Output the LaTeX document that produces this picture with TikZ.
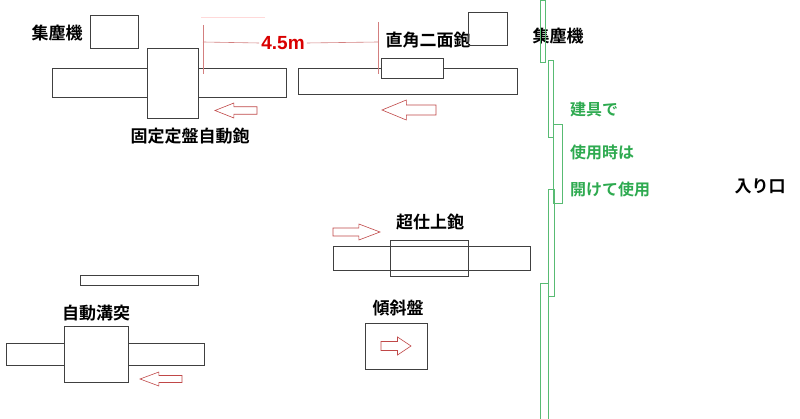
\documentclass[tikz,border=0pt]{standalone}
\usepackage{fontspec}
\newfontfamily\jp{Noto Sans CJK JP Bold}
\newfontfamily\lat{Liberation Sans}
\definecolor{gr}{HTML}{2EAA50}
\definecolor{dr}{HTML}{C04848}
\begin{document}
\begin{tikzpicture}[x=1pt,y=-1pt,
  box/.style={draw=black!75,line width=0.7pt},
  lbl/.style={font=\jp\fontsize{17}{17}\selectfont,inner sep=0pt},
  glbl/.style={font=\jp\fontsize{16}{16}\selectfont,inner sep=0pt,text=gr,anchor=west},
  gdoor/.style={draw=gr!80,line width=0.7pt},
  dim/.style={draw=dr!70,line width=0.6pt},
  blk/.style={draw=dr,line width=0.6pt,fill=white}]
\useasboundingbox (0,0) rectangle (800,419);
\newcommand\la[4]{\draw[blk] (#1,{(#3+#4)/2}) -- ({#1+(#2-#1)*0.45},#3) -- ({#1+(#2-#1)*0.45},{#3+(#4-#3)*0.25}) -- (#2,{#3+(#4-#3)*0.25}) -- (#2,{#3+(#4-#3)*0.75}) -- ({#1+(#2-#1)*0.45},{#3+(#4-#3)*0.75}) -- ({#1+(#2-#1)*0.45},#4) -- cycle;}
\newcommand\ra[4]{\draw[blk] (#2,{(#3+#4)/2}) -- ({#2-(#2-#1)*0.45},#3) -- ({#2-(#2-#1)*0.45},{#3+(#4-#3)*0.25}) -- (#1,{#3+(#4-#3)*0.25}) -- (#1,{#3+(#4-#3)*0.75}) -- ({#2-(#2-#1)*0.45},{#3+(#4-#3)*0.75}) -- ({#2-(#2-#1)*0.45},#4) -- cycle;}
% top left
\node[lbl] (c1) at (57,33) {集塵機};
\draw[box] (90,15) rectangle (138,48);
\draw[box] (52,68) rectangle (286,97);
\draw[box,fill=white] (147,48) rectangle (198,118);
\node[lbl] (t1) at (190,136) {固定定盤自動鉋};
\la{215}{257}{103}{118}
% dimension
\draw[draw=red!15,line width=0.5pt] (201,17) -- (265,17);
\draw[dim] (203,25) -- (203,74);
\node[inner sep=2pt,text=red!85!black,font=\lat\bfseries\fontsize{19}{19}\selectfont] (d) at (283,43) {4.5m};
\draw[dim] (203,42) -- (d.west);
\draw[dim] (d.east) -- (378,42);
% top right
\draw[box] (298,68) rectangle (517,94);
\draw[box,fill=white] (381,58) rectangle (443,78);
\draw[dim] (378,22) -- (378,74);
\node[lbl] (t2) at (428,40) {直角二面鉋};
\draw[box] (468,12) rectangle (507,45);
\node[lbl] (c2) at (558,36) {集塵機};
\la{382}{436}{100}{120}
% green doors
\draw[gdoor] (540,0) rectangle (545,62);
\draw[gdoor] (548,60) rectangle (553,137);
\draw[gdoor] (553,124) rectangle (562,203);
\draw[gdoor] (548,189) rectangle (554,296);
\draw[gdoor] (540,283) rectangle (548,419);
\node[glbl] (g1) at (570,110) {建具で};
\node[glbl] (g2) at (570,152) {使用時は};
\node[glbl] (g3) at (570,189) {開けて使用};
\node[lbl] (ent) at (760,186) {入り口};
% middle
\node[lbl] (t3) at (430,222) {超仕上鉋};
\ra{333}{380}{224}{240}
\draw[box] (333,246) rectangle (530,270);
\draw[box] (390,240) rectangle (468,276);
\draw[box] (80,275) rectangle (198,285);
% bottom left
\node[lbl] (t4) at (96,313) {自動溝突};
\draw[box] (6,343) rectangle (204,365);
\draw[box,fill=white] (64,326) rectangle (128,382);
\la{140}{182}{372}{386}
% tilt
\node[lbl] (t5) at (398,308) {傾斜盤};
\draw[box] (365,323) rectangle (427,369);
\ra{381}{411}{337}{355}
\end{tikzpicture}
\end{document}
